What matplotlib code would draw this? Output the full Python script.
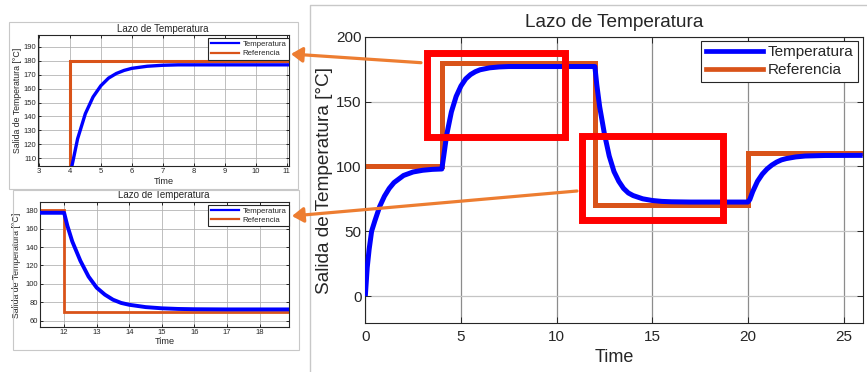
import matplotlib
matplotlib.use("Agg")
import matplotlib.pyplot as plt
from matplotlib.patches import Rectangle, FancyArrowPatch
from matplotlib.lines import Line2D

plt.rcParams['font.family'] = ['Liberation Sans', 'DejaVu Sans']

# ---- closed-loop response (time in s, temperature in degC) ----
time_s = [0, 0.1, 0.2, 0.33, 0.5, 0.75, 1.0, 1.25, 1.5, 2.0, 2.5, 3.0, 3.5, 4.0,
          4.1, 4.25, 4.5, 4.75, 5.0, 5.25, 5.5, 5.75, 6.0, 6.5, 7.0, 7.5, 8.0, 12.0,
          12.1, 12.25, 12.5, 12.75, 13.0, 13.25, 13.5, 13.75, 14.0, 14.5, 15.0, 15.5,
          16.0, 17.0, 18.0, 20.0,
          20.1, 20.25, 20.5, 20.75, 21.0, 21.25, 21.5, 21.75, 22.0, 22.5, 23.0, 24.0, 26.0]
temperature = [0, 22, 36, 50, 58, 69, 77, 83, 87.5, 93, 95.7, 97, 97.7, 98,
               108, 124, 142, 154, 162, 167.5, 170.8, 173, 174.5, 176, 176.7, 177, 177, 177,
               163, 146, 125, 108, 96, 88.5, 83, 79.5, 77.5, 75, 73.7, 73,
               72.7, 72.5, 72.5, 72.5,
               74.5, 80.5, 88.5, 94, 98, 101, 103.3, 105, 106, 107.3, 108, 108.4, 108.5]

# ---- set-point profile ----
setpoint_times = [0, 4, 12, 20, 26]
setpoint_levels = [100, 180, 70, 110, 110]

# ---- axis ticks ----
main_xticks = [0, 5, 10, 15, 20, 25]
main_yticks = [0, 50, 100, 150, 200]
zoom1_xticks = [3, 4, 5, 6, 7, 8, 9, 10, 11]
zoom1_yticks = [110, 120, 130, 140, 150, 160, 170, 180, 190]
zoom2_xticks = [12, 13, 14, 15, 16, 17, 18]
zoom2_yticks = [60, 80, 100, 120, 140, 160, 180]

TITLE = 'Lazo de Temperatura'
XLABEL = 'Time'
YLABEL = 'Salida de Temperatura [°C]'

BLUE = '#0000FF'
ORANGE = '#D95319'
ARROW = '#ED7D31'
TEXT = '#262626'
FRAME = '#C8C8C8'

W, H = 867, 372
fig = plt.figure(figsize=(W / 100, H / 100), dpi=100)


def fx(px):
    return px / W


def fy(py):
    return 1 - py / H


def box(l, t, r, b):
    return [fx(l), fy(b), fx(r) - fx(l), fy(t) - fy(b)]


def draw_response(ax, lw_t, lw_r):
    ax.step(setpoint_times, setpoint_levels, where='post', color=ORANGE,
            lw=lw_r, label='Referencia', zorder=2, solid_joinstyle='miter')
    ax.plot(time_s, temperature, color=BLUE, lw=lw_t, label='Temperatura',
            zorder=3, solid_capstyle='butt')


def style_axes(ax, fs_tick, tick_len, xgrid, ygrid, glw):
    for s in ax.spines.values():
        s.set_color(TEXT)
        s.set_linewidth(0.8)
    ax.tick_params(direction='in', length=tick_len, width=0.7, top=True, right=True,
                   labelsize=fs_tick, colors=TEXT)
    ax.grid(True, axis='x', color=xgrid, lw=glw)
    ax.grid(True, axis='y', color=ygrid, lw=glw)
    ax.set_axisbelow(True)


def add_legend(ax, anchor, fs, hl, htp, lw_t, lw_r, bpad, lsp):
    h = [Line2D([], [], color=BLUE, lw=lw_t), Line2D([], [], color=ORANGE, lw=lw_r)]
    leg = ax.legend(h, ['Temperatura', 'Referencia'], loc='upper right',
                    bbox_to_anchor=anchor, borderaxespad=0, fontsize=fs,
                    handlelength=hl, handletextpad=htp, fancybox=False,
                    edgecolor=TEXT, framealpha=1, borderpad=bpad, labelspacing=lsp)
    leg.get_frame().set_linewidth(0.8)
    for t in leg.get_texts():
        t.set_color(TEXT)
    return leg


# ---- panel frames ----
fig.add_artist(Line2D([fx(309.5), fx(309.5), fx(867)], [fy(372), fy(5), fy(5)],
                      transform=fig.transFigure, color=FRAME, lw=1))
fig.add_artist(Rectangle((fx(9.3), fy(189)), fx(298.3) - fx(9.3), fy(21.7) - fy(189),
                         transform=fig.transFigure, fill=False, ec=FRAME, lw=0.8))
fig.add_artist(Rectangle((fx(12.7), fy(350)), fx(299.3) - fx(12.7), fy(190) - fy(350),
                         transform=fig.transFigure, fill=False, ec=FRAME, lw=0.8))

# ---- main response plot ----
ax = fig.add_axes(box(365.3, 36.7, 862.7, 323.3))
draw_response(ax, 3.6, 3.6)
ax.set_xlim(0, 26)
ax.set_ylim(-21, 200)
ax.set_xticks(main_xticks)
ax.set_yticks(main_yticks)
style_axes(ax, 11, 4, '#8C8C8C', '#C4C4C4', 0.9)
ax.tick_params(axis='x', pad=4.5)
ax.tick_params(axis='y', pad=2.5)
ax.text(0.5, 1.0488, TITLE, transform=ax.transAxes, ha='center', va='center',
        fontsize=13.7, color=TEXT)
ax.set_xlabel(XLABEL, fontsize=13, color=TEXT, va='center')
ax.xaxis.set_label_coords(0.5, -0.1176)
ax.set_ylabel(YLABEL, fontsize=13.7, color=TEXT, va='center')
ax.yaxis.set_label_coords(-0.083, 0.5)
add_legend(ax, (0.991, 0.986), 11, 3.7, 0.35, 3.4, 3.4, 0.3, 0.25)

# highlighted windows
ax.add_patch(Rectangle((3.22, 122.9), 10.44 - 3.22, 187.2 - 122.9, fill=False,
                       ec='#FF0000', lw=5, clip_on=False, zorder=6))
ax.add_patch(Rectangle((11.33, 58.5), 18.71 - 11.33, 123.4 - 58.5, fill=False,
                       ec='#FF0000', lw=5, clip_on=False, zorder=6))

# ---- zoom on the 100 -> 180 step ----
z1 = fig.add_axes(box(38.3, 35, 289.3, 165.7))
draw_response(z1, 2.4, 2.2)
z1.set_xlim(2.98, 11.09)
z1.set_ylim(104.7, 198.4)
z1.set_xticks(zoom1_xticks)
z1.set_yticks(zoom1_yticks)
style_axes(z1, 5.5, 2, '#B4B4B4', '#B4B4B4', 0.6)
z1.tick_params(pad=1.6)
z1.text(0.497, 1.0436, TITLE, transform=z1.transAxes, ha='center', va='center',
        fontsize=7, color=TEXT)
z1.set_xlabel(XLABEL, fontsize=6.6, color=TEXT, va='center')
z1.xaxis.set_label_coords(0.5, -0.1224)
z1.set_ylabel(YLABEL, fontsize=6.3, color=TEXT, va='center')
z1.yaxis.set_label_coords(-0.0837, 0.4966)
add_legend(z1, (0.9976, 0.975), 5.6, 3.7, 0.4, 1.6, 1.6, 0.3, 0.25)

# ---- zoom on the 180 -> 70 step ----
z2 = fig.add_axes(box(40, 201.7, 289.3, 326.7))
draw_response(z2, 2.8, 2.0)
z2.set_xlim(11.26, 18.91)
z2.set_ylim(53.8, 189)
z2.set_xticks(zoom2_xticks)
z2.set_yticks(zoom2_yticks)
style_axes(z2, 5.5, 2, '#B4B4B4', '#B4B4B4', 0.6)
z2.tick_params(pad=1.6)
z2.text(0.497, 1.0536, TITLE, transform=z2.transAxes, ha='center', va='center',
        fontsize=7, color=TEXT)
z2.set_xlabel(XLABEL, fontsize=6.6, color=TEXT, va='center')
z2.xaxis.set_label_coords(0.5, -0.12)
z2.set_ylabel(YLABEL, fontsize=6.3, color=TEXT, va='center')
z2.yaxis.set_label_coords(-0.0935, 0.494)
add_legend(z2, (0.9976, 0.974), 5.6, 3.7, 0.4, 1.6, 1.6, 0.3, 0.25)

# ---- callout arrows from the highlighted windows to the zoomed plots ----
for start, tip in [((421, 62.7), (291, 54)), ((577, 191), (292, 216))]:
    fig.add_artist(FancyArrowPatch((fx(start[0]), fy(start[1])), (fx(tip[0]), fy(tip[1])),
                                   transform=fig.transFigure,
                                   arrowstyle='-|>,head_length=0.45,head_width=0.3',
                                   mutation_scale=15, color=ARROW, lw=2.3,
                                   shrinkA=0, shrinkB=0, zorder=10))

fig.savefig('out.png', dpi=100)
